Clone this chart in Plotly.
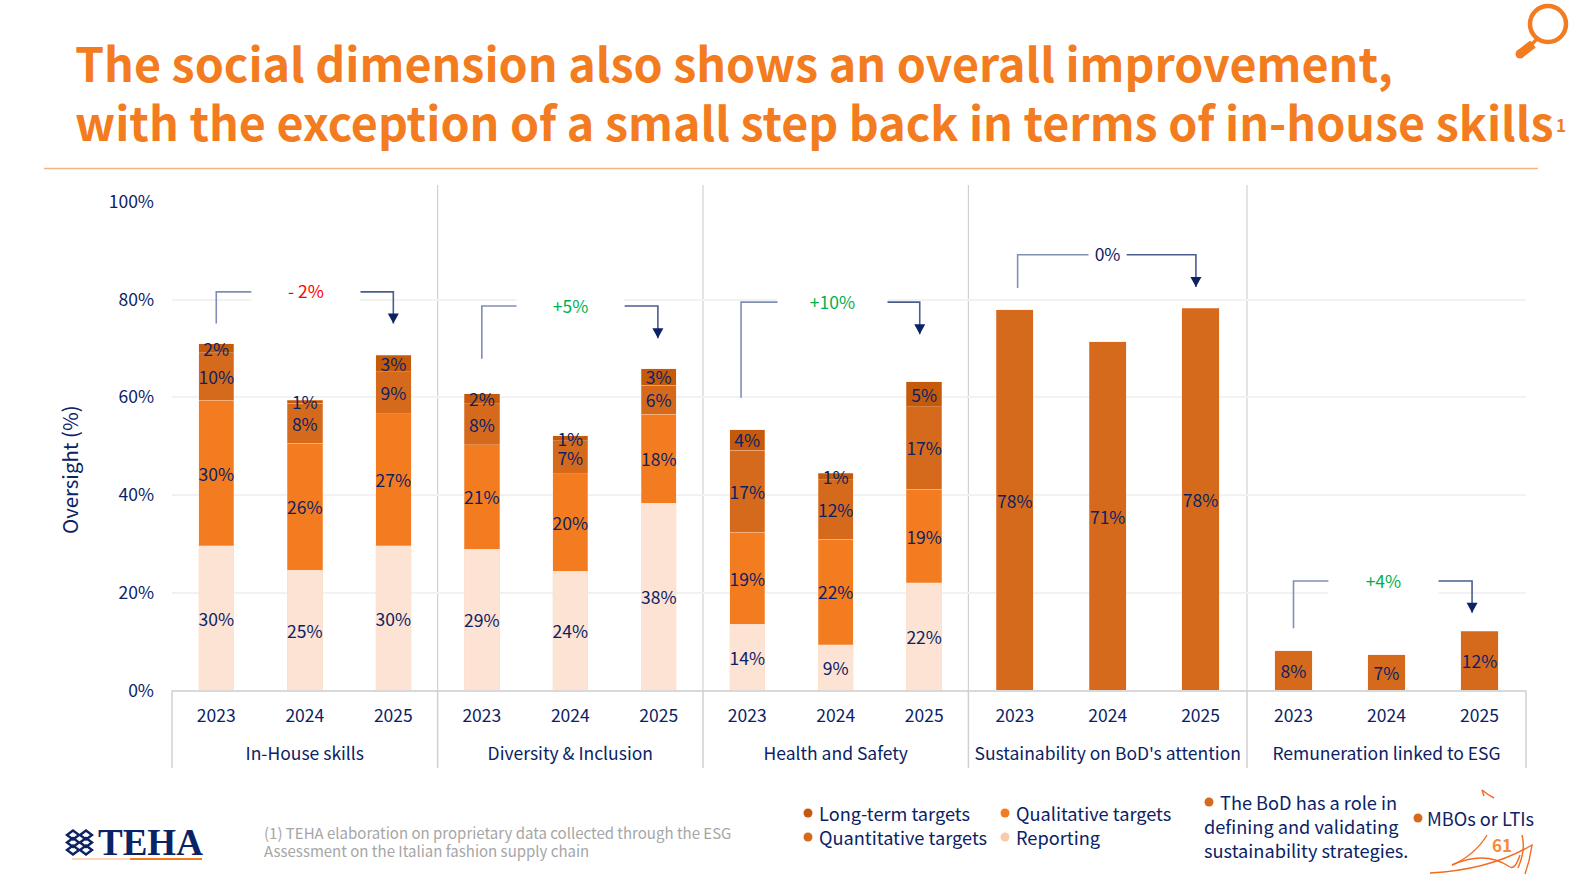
import plotly.graph_objects as go

W, H = 1580, 882
FONT = "Noto Sans CJK SC"
NAVY = "#0B2265"
ORANGE = "#F47C20"
QUANT = "#D56A1C"
LONG = "#C55A0A"
REPORT = "#FCE3D3"

years = ["2023", "2024", "2025"]
groups = ["In-House skills", "Diversity & Inclusion", "Health and Safety",
          "Sustainability on BoD's attention", "Remuneration linked to ESG"]

reporting = [[29.6, 24.6, 29.6], [28.9, 24.4, 38.3], [13.5, 9.3, 22.0]]
qualitative = [[29.8, 26.0, 27.0], [21.4, 20.0, 18.2], [18.9, 21.7, 19.2]]
quantitative = [[9.7, 8.2, 8.6], [8.4, 6.7, 6.0], [16.8, 12.1, 16.9]]
long_term = [[1.9, 0.6, 3.4], [2.0, 1.0, 3.4], [4.2, 1.4, 5.1]]
bod_role = [77.9, 71.4, 78.2]
mbos = [8.1, 7.3, 12.1]

change_labels = ["- 2%", "+5%", "+10%", "0%", "+4%"]
change_colors = ["#FF0000", "#00B050", "#00B050", NAVY, "#00B050"]
bracket_top = [81.6, 78.7, 79.5, 89.2, 22.4]
bracket_start = [75.1, 67.9, 59.9, 82.4, 12.7]
bracket_end = [75.1, 72.1, 72.9, 82.6, 15.9]

y_ticks = [0, 20, 40, 60, 80, 100]


def px(x):
    return x / W


def py(y):
    return 1 - y / H


edges = [172, 437.6, 703, 968.4, 1247, 1526]
Y0, Y100 = 690.4, 202
txt = dict(family=FONT, color=NAVY, size=17.5)

fig = go.Figure()
shapes = []
ann = []


def axis_name(i):
    return "x" if i == 0 else f"x{i + 1}"


def add_bar(i, name, vals, color):
    fig.add_trace(go.Bar(
        x=years, y=vals, name=name, xaxis=axis_name(i), yaxis="y",
        marker=dict(color=color, line=dict(color="rgba(252,220,198,0.45)", width=0.7)),
        texttemplate="%{y:.0f}%", textposition="inside", textangle=0,
        insidetextanchor="middle", constraintext="none",
        textfont=txt, cliponaxis=False, showlegend=False,
    ))


for i in range(3):
    add_bar(i, "Reporting", reporting[i], REPORT)
    add_bar(i, "Qualitative targets", qualitative[i], ORANGE)
    add_bar(i, "Quantitative targets", quantitative[i], QUANT)
    add_bar(i, "Long-term targets", long_term[i], LONG)
add_bar(3, "The BoD has a role in defining and validating sustainability strategies.", bod_role, QUANT)
add_bar(4, "MBOs or LTIs", mbos, QUANT)

layout_axes = {}
for i in range(5):
    key = "xaxis" if i == 0 else f"xaxis{i + 1}"
    layout_axes[key] = dict(
        domain=[px(edges[i]), px(edges[i + 1])], anchor="y", type="category",
        categoryorder="array", categoryarray=years,
        showline=True, linecolor="#D9D9D9", linewidth=2, ticks="",
        tickfont=txt, ticklabelstandoff=9, showgrid=False, zeroline=False,
        title=dict(text=groups[i], standoff=21, font=dict(family=FONT, color=NAVY, size=17.5)),
    )

# brackets
left_x = [0, 0, -0.07, 0.03, 0]
left_end = [0.40, 0.40, 0.35, 0.80, 0.38]
right_start = [1.62, 1.61, 1.58, 1.20, 1.55]
right_x = [2, 1.99, 1.95, 1.95, 1.92]
for i in range(5):
    xr = axis_name(i)
    cat_w = (edges[i + 1] - edges[i]) / 3
    LINE1 = dict(color="#7F8FB5", width=1.6)
    LINE2 = dict(color="#4A5D8E", width=1.6)
    shapes.append(dict(type="path", xref=xr, yref="y", line=LINE1,
                       path=f"M {left_x[i]} {bracket_start[i]} L {left_x[i]} {bracket_top[i]} L {left_end[i]} {bracket_top[i]}"))
    shapes.append(dict(type="path", xref=xr, yref="y", line=LINE2,
                       path=f"M {right_start[i]} {bracket_top[i]} L {right_x[i]} {bracket_top[i]} L {right_x[i]} {bracket_end[i]}"))
    shapes.append(dict(type="path", xref=xr, yref="y", xsizemode="pixel", ysizemode="pixel",
                       xanchor=right_x[i], yanchor=bracket_end[i], fillcolor=NAVY, line=dict(width=0),
                       path="M -5.5 10 L 5.5 10 L 0 0 Z"))
    box_w = (right_start[i] - left_end[i]) * cat_w - 2
    ann.append(dict(xref=xr, yref="y", x=(left_end[i] + right_start[i]) / 2, y=bracket_top[i] + 0.3,
                    text=change_labels[i], showarrow=False, width=box_w, height=30, bgcolor="white",
                    font=dict(family=FONT, size=17.5, color=change_colors[i])))

# dividers
for e in edges[1:-1]:
    shapes.append(dict(type="line", xref="paper", yref="paper", x0=px(e), x1=px(e), y0=py(185), y1=py(Y0),
                       line=dict(color="#D0D0D0", width=1.2), layer="below"))
for e in edges:
    shapes.append(dict(type="line", xref="paper", yref="paper", x0=px(e), x1=px(e), y0=py(Y0), y1=py(768),
                       line=dict(color="#D0D0D0", width=1.5)))

# title underline
shapes.append(dict(type="line", xref="paper", yref="paper", x0=px(44), x1=px(1538), y0=py(168.5), y1=py(168.5),
                   line=dict(color="#F9B27C", width=1.5)))


def label(x, y, text, size=18, color=NAVY, anchor="left", family=FONT, yanchor="middle", weight=None, angle=0):
    font = dict(family=family, size=size, color=color)
    if weight:
        font["weight"] = weight
    ann.append(dict(xref="paper", yref="paper", x=px(x), y=py(y), text=text, showarrow=False,
                    xanchor=anchor, yanchor=yanchor, font=font, textangle=angle))


def dot(x, y, color, r=4.5):
    shapes.append(dict(type="circle", xref="paper", yref="paper", x0=px(x - r), x1=px(x + r),
                       y0=py(y - r), y1=py(y + r), fillcolor=color, line=dict(width=0)))


label(73, 120, "with the exception of a small step back in terms of in-house skills", size=46.6, color=ORANGE, weight=700)
label(1554, 125, "1", size=17, color=ORANGE, weight=700)
label(69, 470, "Oversight (%)", 20.4, anchor="center", angle=-90)

# legend
LEG = 18.2
dot(808, 813, LONG); label(817, 813, "Long-term targets", LEG)
dot(808, 837, QUANT); label(817, 837, "Quantitative targets", LEG)
dot(1005, 813, ORANGE); label(1014, 813, "Qualitative targets", LEG)
dot(1005, 837, "#F8CBAD"); label(1014, 837, "Reporting", LEG)
dot(1209, 802, QUANT); label(1218, 802, "The BoD has a role in", LEG)
label(1202, 826, "defining and validating", LEG)
label(1202, 850, "sustainability strategies.", LEG)
dot(1418, 818, QUANT); label(1425, 818, "MBOs or LTIs", LEG)

# footnote
label(262, 832, "(1) TEHA elaboration on proprietary data collected through the ESG", 15, "#A6A6A6")
label(262, 850, "Assessment on the Italian fashion supply chain", 15, "#A6A6A6")

# logo
label(96, 842, "TEHA", 37, "#0B2265", family="Liberation Serif", weight=700)
for cx in (73, 86):
    for cy in (835, 842.5, 850):
        shapes.append(dict(type="path", xref="paper", yref="paper", line=dict(color=NAVY, width=2.4),
                           path=f"M {px(cx - 6)} {py(cy)} L {px(cx)} {py(cy - 4.5)} L {px(cx + 6)} {py(cy)} L {px(cx)} {py(cy + 4.5)} Z"))
shapes.append(dict(type="line", xref="paper", yref="paper", x0=px(72), x1=px(130), y0=py(859), y1=py(859),
                   line=dict(color="#FBD5BB", width=2)))
shapes.append(dict(type="line", xref="paper", yref="paper", x0=px(130), x1=px(202), y0=py(859), y1=py(859),
                   line=dict(color=ORANGE, width=2)))

# magnifier
shapes.append(dict(type="circle", xref="paper", yref="paper", x0=px(1530), x1=px(1566), y0=py(6), y1=py(42),
                   line=dict(color=ORANGE, width=4.5)))
shapes.append(dict(type="line", xref="paper", yref="paper", x0=px(1537), x1=px(1532), y0=py(39), y1=py(44),
                   line=dict(color=ORANGE, width=3.5)))
shapes.append(dict(type="line", xref="paper", yref="paper", x0=px(1533), x1=px(1520), y0=py(44), y1=py(54),
                   line=dict(color=ORANGE, width=9)))
dot(1520, 54, ORANGE, 4.5)


def curve(points):
    d = "M " + f"{px(points[0][0])} {py(points[0][1])}"
    for k in range(1, len(points), 2):
        d += f" Q {px(points[k][0])} {py(points[k][1])} {px(points[k + 1][0])} {py(points[k + 1][1])}"
    return dict(type="path", xref="paper", yref="paper", path=d, line=dict(color="#F56A1E", width=1.4))


shapes += [
    curve([(1452, 865), (1475, 855), (1487, 835)]),
    curve([(1452, 865), (1485, 850), (1510, 867), (1515, 870), (1520, 855)]),
    curve([(1430, 873), (1490, 870), (1532, 845), (1530, 860), (1525, 874)]),
    curve([(1522, 835), (1526, 850), (1518, 868)]),
    curve([(1482, 790), (1488, 795), (1494, 798)]),
    curve([(1482, 790), (1483, 793), (1484, 796)]),
]
label(1502, 844, "61", 17, "#F48A3A", anchor="center", weight=700)

fig.update_layout(
    width=W, height=H, margin=dict(l=0, r=0, t=0, b=0, autoexpand=False), autosize=False,
    paper_bgcolor="white", plot_bgcolor="white", barmode="stack", bargap=0.6,
    font=dict(family=FONT, color=NAVY),
    title=dict(text="<b>The social dimension also shows an overall improvement,</b>",
               x=px(75), xanchor="left", xref="paper", y=py(66), yanchor="middle",
               font=dict(family=FONT, size=46.6, color=ORANGE)),
    yaxis=dict(domain=[py(Y0), py(Y100)], range=[0, 100], tickvals=y_ticks, ticktext=[f"{v}%" for v in y_ticks],
               tickfont=txt, ticklabelstandoff=17, showgrid=True, gridcolor="#F2F2F2", gridwidth=1.5,
               zeroline=False, ticks="", showline=False, anchor="x"),
    shapes=shapes, annotations=ann,
    **layout_axes,
)
fig.write_html("out.html", config=dict(displayModeBar=False), post_script="document.body.style.margin='0';")
